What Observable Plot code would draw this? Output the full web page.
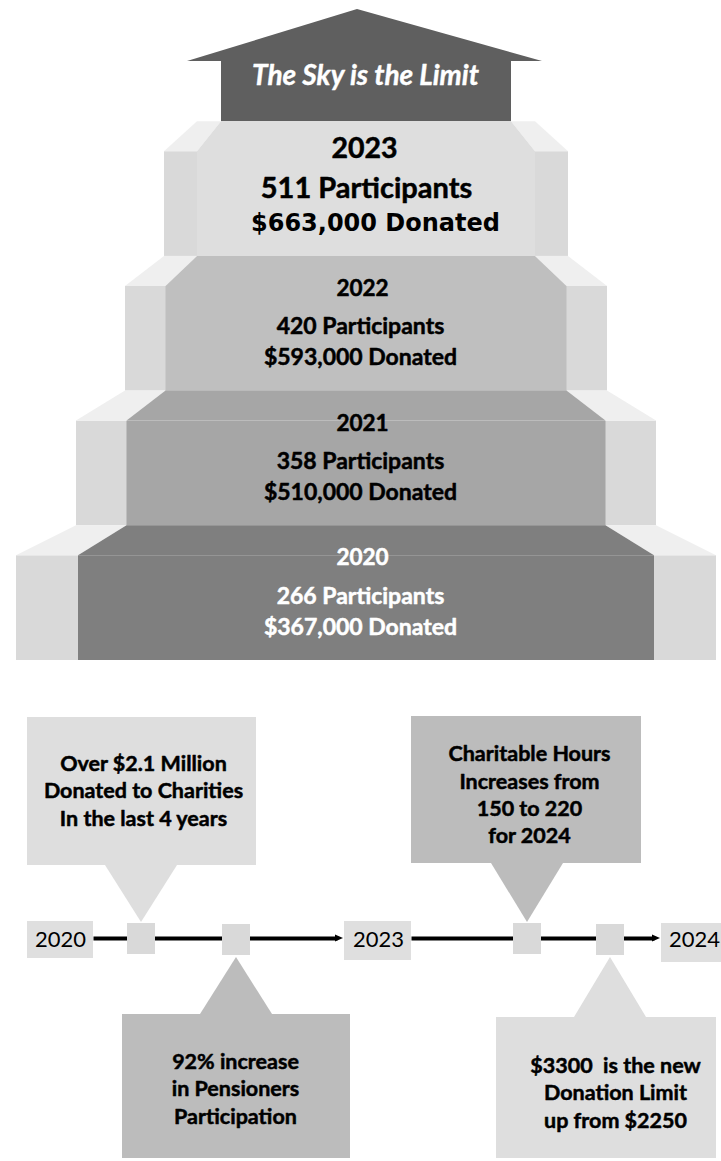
<!DOCTYPE html>
<html><head><meta charset="utf-8">
<script src="https://cdn.jsdelivr.net/npm/d3@7"></script>
<script src="https://cdn.jsdelivr.net/npm/@observablehq/plot@0.6"></script>
<style>
html,body{margin:0;padding:0;background:#fff;}
#chart svg{display:block;}
</style></head><body><div id="chart"></div>
<script>
// ---------------- data ----------------
const years = ["2020", "2021", "2022", "2023"];
const participants = [266, 358, 420, 511];
const donated = [367000, 510000, 593000, 663000];
const headline = "The Sky is the Limit";
const timelineYears = ["2020", "2023", "2024"];
const calloutTexts = [
  "Over $2.1 Million\nDonated to Charities\nIn the last 4 years",
  "92% increase\nin Pensioners\nParticipation",
  "Charitable Hours\nIncreases from\n150 to 220\nfor 2024",
  "$3300  is the new\nDonation Limit\nup from $2250"
];

// ---------------- layout (positions / sizes / styles) ----------------
const W = 721, H = 1161, CX = 366;
const base = 660, stepH = 134.7, bevel = 30;
const centralHalf = [288, 239.5, 200.5, 169, 145];
const outerHalf = [350, 290, 241, 202, 169];
const faceFill = ["#7f7f7f", "#a6a6a6", "#bfbfbf", "#dedede"];
const sideFill = "#d9d9d9", sideTopFill = "#efefef";
const arrowFill = "#5f5f5f";
const arrowHead = {apexX: 357, apexY: 9, left: 187, right: 542, baseY: 61};
const lineY = 938;
const yearBoxes = [[27, 93, 921, 958], [344, 411, 921, 960], [661, 721, 923, 962]];
const yearTextX = [60, 378, 694];
// callout: box x1,x2,y1,y2, anchor x, above?, fill, text centre
const callouts = [
  {box: [27, 256, 717, 865], ax: 141, up: true, fill: "#dedede", tx: 143, ty: 789},
  {box: [122, 350, 1014, 1158], ax: 236, up: false, fill: "#bcbcbc", tx: 235, ty: 1087},
  {box: [411, 641, 716, 863], ax: 527, up: true, fill: "#bcbcbc", tx: 529, ty: 793},
  {box: [496, 716, 1017, 1158], ax: 610, up: false, fill: "#dedede", tx: 615, ty: 1091}
];

// ---------------- geometry built from layout ----------------
const rectsBack = [], polys = [], squares = [], segs = [];
function poly(id, fill, rows) { rows.forEach(r => polys.push({id, fill, ...r})); }

years.forEach((yr, i) => {
  const bottom = base - i * stepH, top = bottom - stepH, front = top + bevel;
  const c0 = centralHalf[i], c1 = centralHalf[i + 1], o0 = outerHalf[i], o1 = outerHalf[i + 1];
  rectsBack.push({x1: CX - o0, x2: CX + o0, y1: front, y2: bottom, fill: sideFill});
  rectsBack.push({x1: CX - c0, x2: CX + c0, y1: front, y2: bottom, fill: faceFill[i]});
  poly(`pl${i}`, sideTopFill, [{y: top, x1: CX - o1, x2: CX - c1}, {y: front, x1: CX - o0, x2: CX - c0}]);
  poly(`pr${i}`, sideTopFill, [{y: top, x1: CX + c1, x2: CX + o1}, {y: front, x1: CX + c0, x2: CX + o0}]);
  poly(`pc${i}`, faceFill[i], [{y: top, x1: CX - c1, x2: CX + c1}, {y: front, x1: CX - c0, x2: CX + c0}]);
});
// sky arrow
const shaftBottom = base - years.length * stepH;
rectsBack.push({x1: CX - centralHalf[4], x2: CX + centralHalf[4], y1: arrowHead.baseY, y2: shaftBottom, fill: arrowFill});
poly("head", arrowFill, [{y: arrowHead.apexY, x1: arrowHead.apexX, x2: arrowHead.apexX}, {y: arrowHead.baseY, x1: arrowHead.left, x2: arrowHead.right}]);

// timeline
yearBoxes.forEach(b => rectsBack.push({x1: b[0], x2: b[1], y1: b[2], y2: b[3], fill: "#dfdfdf"}));
const heads = [];
for (let k = 0; k < yearBoxes.length - 1; k++) {
  const xa = yearBoxes[k][1], xb = yearBoxes[k + 1][0] - 1;
  segs.push({x1: xa, x2: xb - 6, y: lineY});
  heads.push({id: `h${k}`, x: xb - 8, y1: lineY - 3.5, y2: lineY + 3.5});
  heads.push({id: `h${k}`, x: xb, y1: lineY, y2: lineY});
}
callouts.forEach((c, k) => {
  const [x1, x2, y1, y2] = c.box;
  rectsBack.push({x1, x2, y1, y2, fill: c.fill});
  const baseY = c.up ? y2 : y1, apexY = c.up ? 922 : 957;
  poly(`ptr${k}`, c.fill, [{y: apexY, x1: c.ax, x2: c.ax}, {y: baseY, x1: c.ax - 36, x2: c.ax + 36}]);
  squares.push({x1: c.ax - 14, x2: c.ax + 14, y1: c.up ? 923 : 924, y2: c.up ? 954 : 955});
});

// texts
const fmt = d3.format(",");
const stepRows = [];
years.forEach((yr, i) => {
  const mid = base - i * stepH - stepH / 2;
  const top = i === years.length - 1;
  const fill = i === 0 ? "#ffffff" : "#000000";
  stepRows.push({t: yr, x: top ? 364 : 362, y: mid + (top ? -40 : -35), fill, size: top ? 28.5 : 22.5, fam: "Lato"});
  stepRows.push({t: `${participants[i]} Participants`, x: top ? 366 : 360, y: mid + (top ? 0 : 3), fill, size: top ? 29 : 23, fam: "Lato"});
  stepRows.push({t: `$${fmt(donated[i])} Donated`, x: top ? 375 : 360, y: mid + (top ? 34 : 34), fill, size: top ? 24 : 23, fam: top ? "DejaVu Sans" : "Lato"});
});
const latoRows = stepRows.filter(d => d.fam === "Lato");
const dvRows = stepRows.filter(d => d.fam !== "Lato");

const chart = Plot.plot({
  width: W, height: H, margin: 0,
  x: {domain: [0, W], range: [0, W], axis: null},
  y: {domain: [0, H], range: [0, H], axis: null},
  color: {type: "identity"},
  style: {background: "#ffffff"},
  marks: [
    Plot.rect(rectsBack, {x1: "x1", x2: "x2", y1: "y1", y2: "y2", fill: "fill"}),
    Plot.areaX(polys, {y: "y", x1: "x1", x2: "x2", z: "id", fill: "fill", curve: "linear"}),
    Plot.link(segs, {x1: "x1", x2: "x2", y1: "y", y2: "y", stroke: "#000", strokeWidth: 4}),
    Plot.areaY(heads, {x: "x", y1: "y1", y2: "y2", z: "id", fill: "#000", curve: "linear"}),
    Plot.rect(squares, {x1: "x1", x2: "x2", y1: "y1", y2: "y2", fill: "#d9d9d9"}),
    Plot.text([headline], {x: () => 365, y: () => 76, text: d => d, fill: "#ffffff", stroke: "#ffffff", strokeWidth: 0.4, fontSize: 28, fontWeight: "bold", fontStyle: "italic", fontFamily: "Lato", lineAnchor: "middle"}),
    Plot.text(latoRows, {x: "x", y: "y", text: "t", fill: "fill", stroke: "fill", strokeWidth: 0.5, fontSize: "size", fontWeight: "bold", fontFamily: "Lato", lineAnchor: "middle"}),
    Plot.text(dvRows, {x: "x", y: "y", text: "t", fill: "fill", fontSize: "size", fontWeight: "bold", fontFamily: "DejaVu Sans", lineAnchor: "middle"}),
    Plot.text(timelineYears, {x: (d, i) => yearTextX[i], y: () => lineY + 1, text: d => d, fill: "#000", fontSize: 22, fontFamily: "Lato", lineAnchor: "middle"}),
    Plot.text(calloutTexts, {x: (d, i) => callouts[i].tx, y: (d, i) => callouts[i].ty, text: d => d, fill: "#000", stroke: "#000", strokeWidth: 0.5, fontSize: 21.5, fontWeight: "bold", fontFamily: "Lato", lineHeight: 1.27, lineAnchor: "middle"})
  ]
});
document.getElementById("chart").appendChild(chart);
</script>
</body></html>
